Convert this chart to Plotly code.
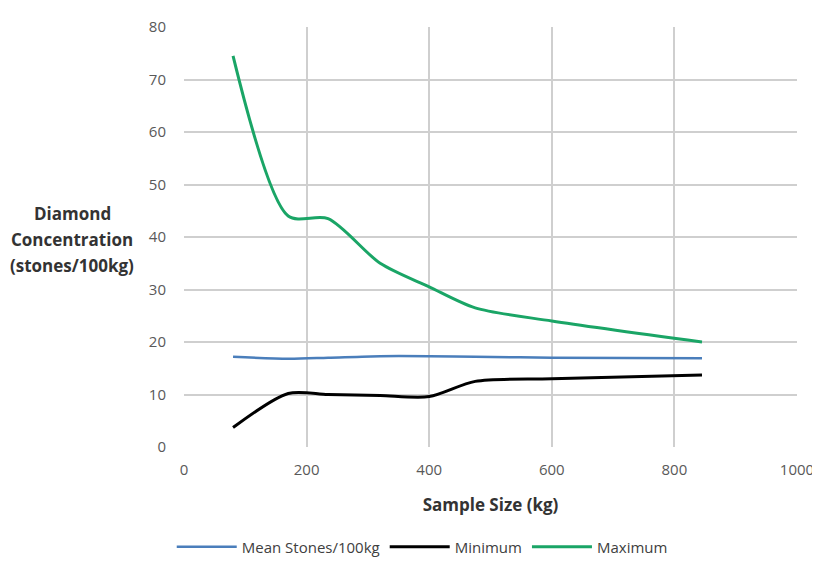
import plotly.graph_objects as go

sample_size = [80, 170, 235, 320, 400, 475, 600, 845]
mean_stones = [17.2, 16.8, 17.0, 17.3, 17.3, 17.2, 17.0, 16.9]
minimum = [3.7, 10.2, 10.0, 9.8, 9.6, 12.5, 13.0, 13.7]
maximum = [74.5, 44.0, 43.5, 35.0, 30.5, 26.5, 24.0, 20.0]
y_title_lines = ["Diamond", "Concentration", "(stones/100kg)"]

font_family = "Open Sans, Liberation Sans, Arial"

fig = go.Figure()
fig.add_trace(go.Scatter(x=sample_size, y=mean_stones, mode="lines", name="Mean Stones/100kg",
                         line=dict(color="#4a7ebb", width=2.5, shape="spline", smoothing=0.8)))
fig.add_trace(go.Scatter(x=sample_size, y=minimum, mode="lines", name="Minimum",
                         line=dict(color="#000000", width=3, shape="spline", smoothing=0.8)))
fig.add_trace(go.Scatter(x=sample_size, y=maximum, mode="lines", name="Maximum",
                         line=dict(color="#1aa566", width=3, shape="spline", smoothing=0.8)))

fig.update_layout(
    template="none",
    width=812, height=554,
    margin=dict(l=176, r=23, t=19, b=115, autoexpand=False),
    paper_bgcolor="white", plot_bgcolor="white",
    font=dict(family=font_family, size=15, color="#595959"),
    showlegend=True,
    legend=dict(orientation="h", x=-0.02, xanchor="left", y=-0.238, yanchor="middle",
                font=dict(size=15, color="#404040"), traceorder="normal",
                itemwidth=60, bgcolor="rgba(0,0,0,0)"),
    xaxis=dict(range=[0, 1000], dtick=200, showgrid=True, gridcolor="#cfcfcf", gridwidth=1.5,
               zeroline=False, showline=False, ticks="", automargin=False,
               ticklabelstandoff=12,
               title=dict(text="<b>Sample Size (kg)</b>", font=dict(size=17, color="#333333"), standoff=21),
               tickfont=dict(size=15, color="#595959")),
    yaxis=dict(range=[0, 80], dtick=10, showgrid=True, gridcolor="#cfcfcf", gridwidth=1.5,
               zeroline=False, showline=False, ticks="", automargin=False,
               ticklabelstandoff=17,
               tickfont=dict(size=15, color="#595959")),
)

for line_text, ypos in zip(y_title_lines, [0.557, 0.495, 0.433]):
    fig.add_annotation(
        text="<b>" + line_text + "</b>",
        xref="paper", yref="paper", x=-0.1827, y=ypos, xanchor="center", yanchor="middle",
        showarrow=False, align="center", font=dict(size=17, color="#333333"),
    )

fig.write_html("out.html")
